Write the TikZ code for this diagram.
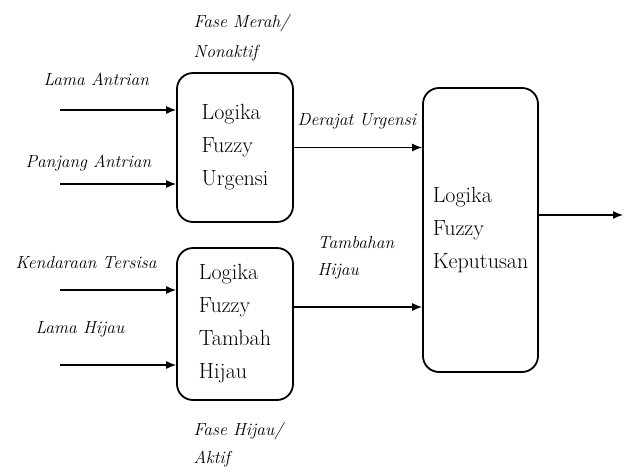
\documentclass[tikz,border=0pt]{standalone}
\usetikzlibrary{positioning}
\usetikzlibrary{arrows.meta}
\tikzset{
	every path/.style={line width=1.2pt},
	>={Latex[length=10pt,width=8pt]},
	logic/.style={draw, line width=1.8pt, rounded corners=16pt, align=left, inner sep=0pt, font=\fontsize{22}{33}\selectfont},
	signal/.style={anchor=base west, inner sep=0pt, font=\fontsize{17.5}{20}\selectfont\itshape},
}

\begin{document}
\begin{tikzpicture}[x=1pt,y=-1pt]
	\useasboundingbox (0,0) rectangle (625,472);
	
	% fuzzy blocks..........................
	\node [logic, minimum width=116pt, minimum height=149pt] (urgensi) at (235,147.5) {Logika\\Fuzzy\\Urgensi};
	\node [logic, minimum width=116pt, minimum height=152pt] (tambah) at (235,324) {Logika\\Fuzzy\\Tambah\\Hijau};
	\node [logic, minimum width=115pt, minimum height=284pt] (keputusan) at (480.5,230) {Logika\\Fuzzy\\Keputusan};
	
	% inputs................................
	\coordinate (lamaA) at (60,110);
	\coordinate (panjangA) at (60,184);
	\coordinate (sisa) at (60,290);
	\coordinate (lamaH) at (60,365);
	\draw [->] (lamaA) -- (lamaA -| urgensi.west);
	\draw [->] (panjangA) -- (panjangA -| urgensi.west);
	\draw [->] (sisa) -- (sisa -| tambah.west);
	\draw [->] (lamaH) -- (lamaH -| tambah.west);
	
	% outputs to decision block.............
	\draw [->] (urgensi.east) -- (urgensi.east -| keputusan.west);
	\coordinate (tambahOut) at (tambah.east |- 0,307);
	\draw [->] (tambahOut) -- (tambahOut -| keputusan.west);
	
	% final output..........................
	\coordinate (keluar) at (623,215);
	\draw [->] (keluar -| keputusan.east) -- (keluar);
	
	% labels................................
	\node [signal] (lblLamaA) at (43,85) {Lama Antrian};
	\node [signal] (lblPanjangA) at (25,167) {Panjang Antrian};
	\node [signal] (lblSisa) at (15,268) {Kendaraan Tersisa};
	\node [signal] (lblLamaH) at (35,333) {Lama Hijau};
	\node [signal] (lblMerah) at (193,27) {Fase Merah/};
	\node [signal] (lblNonaktif) at (193,57) {Nonaktif};
	\node [signal] (lblFaseHijau) at (193,435) {Fase Hijau/};
	\node [signal] (lblAktif) at (193,463) {Aktif};
	\node [signal] (lblDerajat) at (297,125) {Derajat Urgensi};
	\node [signal] (lblTambahan) at (317,248) {Tambahan};
	\node [signal] (lblHijau) at (317,275) {Hijau};
\end{tikzpicture}
\end{document}
